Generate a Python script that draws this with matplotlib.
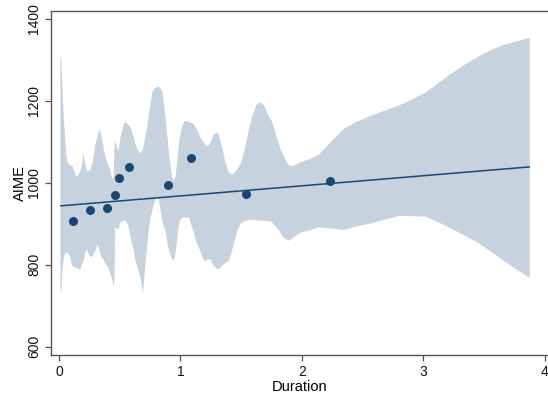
import matplotlib
matplotlib.use("Agg")
import matplotlib.pyplot as plt

# binned scatter points
dur = [0.113, 0.255, 0.393, 0.461, 0.492, 0.579, 0.898, 1.085, 1.540, 2.232]
aime = [908, 933, 938, 970, 1013, 1039, 994, 1061, 974, 1005]

# linear fit end points
fit_x = [0.016, 3.874]
fit_y = [944, 1039]

# confidence band
band_x = [0.008, 0.016, 0.025, 0.037, 0.049, 0.063, 0.082, 0.105, 0.124, 0.140,
          0.157, 0.173, 0.189, 0.200, 0.210, 0.228, 0.239, 0.255, 0.272, 0.297,
          0.313, 0.332, 0.346, 0.362, 0.379, 0.398, 0.420, 0.437, 0.447, 0.453,
          0.459, 0.470, 0.488, 0.502, 0.530, 0.544, 0.568, 0.585, 0.610, 0.626,
          0.643, 0.667, 0.689, 0.704, 0.722, 0.737, 0.750, 0.764, 0.777, 0.805,
          0.818, 0.832, 0.846, 0.859, 0.873, 0.887, 0.900, 0.914, 0.928, 0.942,
          0.956, 0.972, 0.988, 1.011, 1.030, 1.052, 1.065, 1.079, 1.106, 1.134,
          1.161, 1.189, 1.211, 1.230, 1.244, 1.269, 1.299, 1.312, 1.340, 1.367,
          1.395, 1.417, 1.442, 1.466, 1.491, 1.524, 1.559, 1.590, 1.623, 1.656,
          1.689, 1.722, 1.752, 1.787, 1.820, 1.848, 1.886, 1.917, 1.944, 1.985,
          2.068, 2.136, 2.232, 2.342, 2.446, 2.562, 2.685, 2.795, 2.908, 3.015,
          3.122, 3.221, 3.328, 3.441, 3.550, 3.660, 3.764, 3.874]
band_hi = [1310, 1300, 1230, 1160, 1100, 1055, 1045, 1043, 1030, 1015,
           1022, 1031, 1050, 1076, 1050, 1031, 1031, 1031, 1050, 1096,
           1115, 1133, 1115, 1090, 1065, 1047, 1031, 1010, 1020, 1090,
           1104, 1090, 1080, 1110, 1145, 1149, 1143, 1137, 1115, 1095,
           1084, 1072, 1085, 1110, 1135, 1170, 1195, 1220, 1230, 1236,
           1236, 1232, 1226, 1200, 1161, 1120, 1080, 1045, 1015, 1007,
           1015, 1060, 1110, 1140, 1152, 1153, 1150, 1148, 1145, 1130,
           1112, 1100, 1092, 1092, 1100, 1118, 1125, 1120, 1088, 1050,
           1027, 1022, 1025, 1035, 1047, 1080, 1129, 1165, 1192, 1198,
           1188, 1165, 1150, 1115, 1085, 1065, 1045, 1042, 1045, 1052,
           1060, 1070, 1100, 1133, 1150, 1165, 1178, 1190, 1205, 1222,
           1245, 1267, 1288, 1308, 1325, 1338, 1347, 1355]
band_lo = [740, 735, 790, 820, 830, 831, 825, 800, 795, 795,
           791, 791, 805, 811, 830, 840, 830, 820, 823, 836,
           850, 835, 819, 815, 803, 798, 780, 762, 750, 760,
           893, 890, 887, 905, 909, 909, 895, 870, 840, 810,
           795, 770, 733, 790, 844, 890, 915, 933, 950, 966,
           960, 935, 910, 895, 884, 860, 840, 825, 815, 811,
           830, 870, 905, 917, 917, 917, 917, 905, 880, 852,
           835, 811, 812, 815, 815, 800, 791, 791, 798, 806,
           811, 830, 860, 885, 901, 908, 911, 911, 910, 909,
           909, 908, 905, 893, 880, 867, 860, 865, 872, 880,
           886, 893, 890, 886, 895, 902, 912, 921, 920, 919,
           905, 891, 874, 856, 834, 811, 790, 769]

navy = "#1a476f"
band_col = "#c6d3df"
frame_col = "#555555"

plt.rcParams['font.family'] = ['Liberation Sans', 'DejaVu Sans']

fig = plt.figure(figsize=(5.48, 4.0), dpi=100)
ax = fig.add_axes([50.7 / 548, 45 / 400, (548 - 50.7) / 548, 344 / 400])

ax.fill_between(band_x, band_lo, band_hi, color=band_col, linewidth=0, zorder=1)
ax.plot(fit_x, fit_y, color=navy, lw=1.1, zorder=2)
ax.scatter(dur, aime, s=42, color=navy, zorder=3, linewidths=0)

ax.set_xlim(-0.068, 4.028)
ax.set_ylim(580, 1419.5)
ax.set_xticks([0, 1, 2, 3, 4])
ax.set_yticks([600, 800, 1000, 1200, 1400])
ax.tick_params(axis='both', direction='out', length=4, width=0.9, color=frame_col,
               labelsize=10, labelcolor='#111111', pad=3)
for lbl in ax.get_yticklabels():
    lbl.set_rotation(90)
    lbl.set_va('center')

ax.spines['right'].set_visible(False)
for s in ['left', 'bottom', 'top']:
    ax.spines[s].set_color(frame_col)
    ax.spines[s].set_linewidth(1.0)

ax.set_xlabel("Duration", fontsize=10.5, labelpad=1)
ax.set_ylabel("AIME", fontsize=10.5, labelpad=0)

fig.savefig("out.png", dpi=100)
